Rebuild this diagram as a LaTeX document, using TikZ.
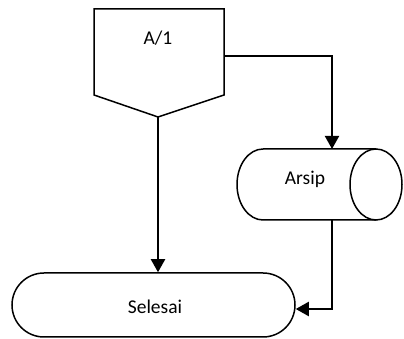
\documentclass[tikz,border=0pt]{standalone}
\usepackage{fontspec}
\setmainfont{Carlito}
\usetikzlibrary{arrows.meta}
\begin{document}
\begin{tikzpicture}[x=1pt,y=1pt,
  shapeline/.style={draw=black,line width=1.5pt,line join=miter},
  conn/.style={draw=black,line width=2pt,-{Triangle[length=13pt,width=14pt]}},
  lbl/.style={font=\fontsize{19.5}{22}\selectfont,inner sep=0pt}]
\useasboundingbox (0,0) rectangle (404,339);
% off-page connector
\draw[shapeline] (94,330) -- (224,330) -- (224,244) -- (158,222) -- (94,244) -- cycle;
\node[lbl] (offp) at (158,301) {A/1};
\coordinate (offpR) at (224,283);
\coordinate (offpB) at (158,222);
% cylinder (stored data)
\draw[shapeline,fill=white] (263,190) -- (376,190) (376,119) -- (263,119)
  arc[start angle=270,end angle=90,x radius=26,y radius=35.5];
\draw[shapeline] (376,154.5) ellipse[x radius=26,y radius=35.5];
\node[lbl] (arsip) at (305,160) {Arsip};
\coordinate (arsipT) at (332,190);
\coordinate (arsipB) at (332,119);
% terminator
\node[shapeline,rounded corners=32pt,minimum width=283pt,minimum height=64pt,inner sep=0pt] (selesai) at (153.5,34) {};
\node[lbl] (selesaiT) at (155,32) {Selesai};
% connectors
\draw[conn] (offpB) -- (offpB |- selesai.north);
\draw[conn] (offpR) -| (arsipT);
\draw[conn] (arsipB) |- (selesai.east |- 0,30);
\end{tikzpicture}
\end{document}
